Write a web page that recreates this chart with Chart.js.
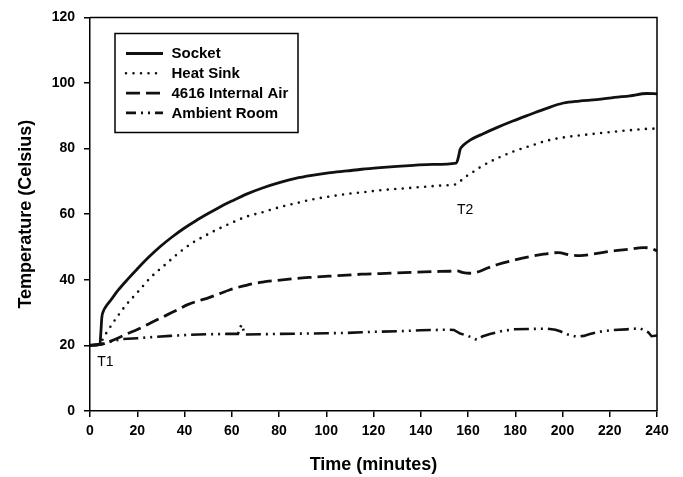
<!DOCTYPE html>
<html>
<head>
<meta charset="utf-8">
<script src="https://cdn.jsdelivr.net/npm/chart.js@4.4.1/dist/chart.umd.min.js"></script>
<style>
  html, body { margin: 0; padding: 0; background: #fff; }
  #wrap { width: 683px; height: 477px; position: relative; }
</style>
</head>
<body>
<div id="wrap"><canvas id="c"></canvas></div>
<script>
// ---- Data ----
const seriesNames = ["Socket", "Heat Sink", "4616 Internal Air", "Ambient Room"];

const socketTime = [0,2,4.2,4.6,5.0,5.6,6.4,9,12,16,20,25,30,35,40,45,50,55,60,66.5,73,80.5,87,94.6,101,108.8,115,122.8,130,136.9,145,155,155.8,156.7,158,160.9,166,172.2,179,186.3,193,200.4,207,214.5,222,228.6,235.6,240];
const socketTemp = [20.1,20.1,20.3,24,28.5,30.3,31.5,34,36.9,40.2,43.3,47,50.3,53.2,55.8,58.1,60.2,62.2,64,66.2,68,69.7,70.9,71.9,72.6,73.2,73.7,74.2,74.6,74.9,75.2,75.6,77,79.8,81,82.6,84.4,86.4,88.4,90.4,92.2,93.9,94.5,94.9,95.6,96.1,96.8,96.7];

const heatSinkTime = [0,3,4.5,5.5,7.1,11.3,14.9,20.5,25.5,31.8,37.4,43,49.4,54,59.4,66,73.5,80.5,87.6,94,101.7,108,115.8,122.8,129.9,137,144,150,155.3,158.1,161,165.1,172.2,179.2,186.3,193.3,200.4,207,214.5,221,228.6,235,240];
const heatSinkTemp = [20,20.1,20.8,22,24,28.5,32,36.5,40.6,44.6,48.1,51.1,53.7,55.4,57.2,59.2,60.7,62.2,63.4,64.5,65.4,66.1,66.7,67.3,67.7,68.1,68.5,68.8,69.2,71,72.3,74.3,77,79.1,80.8,82.4,83.4,84,84.6,85.1,85.6,86,86.1];

const airTime = [0,4,8,10.7,15,20.5,26,31.8,36,41.6,46,50.1,55,59,66.5,73,80.5,87,94.6,101,108.8,115,122.8,130,136.9,145,152,155.3,158,160.9,165.1,168,172.2,179,186.3,192,198.3,203,207.4,214,221.5,228,234.2,237.5,240];
const airTemp = [20,20.3,21.1,21.9,23.3,25,27,29,30.5,32.5,33.6,34.5,35.8,36.9,38.4,39.3,39.9,40.4,40.8,41.1,41.4,41.7,41.9,42.1,42.3,42.5,42.6,42.7,42.2,42,42.6,43.5,44.6,45.9,47.1,47.8,48.3,47.6,47.4,48,48.8,49.3,49.8,49.6,48.8];

const ambientTime = [0,5,9,13.4,20,27.6,34,41.6,50.1,58,62.6,63.4,64.1,64.8,65.6,72,80.5,90,100,108.8,115,122.8,130,140,151,154,156.7,160,163.7,166,169.3,174,179.2,186,193.3,197,199,202,206,209,211.6,216,221.5,227,232.8,236.3,237.7,240];
const ambientTemp = [20,20.3,21.2,21.9,22.2,22.6,22.9,23.2,23.4,23.5,23.5,25,26.3,25,23.3,23.4,23.5,23.6,23.7,23.8,24,24.2,24.3,24.6,24.8,24.7,23.6,22.9,21.7,22.7,23.5,24.3,24.9,25,25.1,24.8,24.3,23.4,22.6,22.9,23.5,24.2,24.7,24.9,25.2,24,22.8,23];

const xTicks = [0,20,40,60,80,100,120,140,160,180,200,220,240];
const yTicks = [0,20,40,60,80,100,120];
const xTitle = "Time (minutes)";
const yTitle = "Temperature (Celsius)";

const noteLabels = ["T1", "T2"];
const noteX = [6.5, 158.8];
const noteY = [14.8, 61.3];

// ---- Build datasets ----
function pts(t, v) { return t.map((x, i) => ({ x: x, y: v[i] })); }

const FONT = "'Liberation Sans', Arial, sans-serif";

const datasets = [
  { label: seriesNames[0], data: pts(socketTime, socketTemp), borderColor: '#111', borderWidth: 2.8, borderDash: [], borderCapStyle: 'butt', cubicInterpolationMode: 'monotone' },
  { label: seriesNames[1], data: pts(heatSinkTime, heatSinkTemp), borderColor: '#111', borderWidth: 2.6, borderDash: [0, 7.5], borderCapStyle: 'round', cubicInterpolationMode: 'monotone' },
  { label: seriesNames[2], data: pts(airTime, airTemp), borderColor: '#111', borderWidth: 2.8, borderDash: [14, 6], borderCapStyle: 'butt', cubicInterpolationMode: 'monotone' },
  { label: seriesNames[3], data: pts(ambientTime, ambientTemp), borderColor: '#111', borderWidth: 2.6, borderDash: [15, 5, 2, 5, 2, 5], borderCapStyle: 'butt', tension: 0 }
].map(d => Object.assign(d, { pointRadius: 0, fill: false }));

// Legend box drawn inside the plot
const boxLegend = {
  id: 'boxLegend',
  afterDraw(chart) {
    const ctx = chart.ctx;
    const x0 = 115, y0 = 33.5, w = 183, h = 99;
    ctx.save();
    ctx.lineWidth = 1.5;
    ctx.strokeStyle = '#000';
    ctx.fillStyle = '#fff';
    ctx.fillRect(x0, y0, w, h);
    ctx.strokeRect(x0, y0, w, h);
    ctx.font = 'bold 15px ' + FONT;
    ctx.textBaseline = 'middle';
    ctx.textAlign = 'left';
    chart.data.datasets.forEach((ds, i) => {
      const y = 53.5 + i * 19.8;
      ctx.beginPath();
      ctx.lineWidth = ds.borderWidth;
      ctx.setLineDash(i === 3 ? [10, 5, 2, 5, 2, 5] : (i === 2 ? [14, 6] : ds.borderDash));
      ctx.lineCap = ds.borderCapStyle;
      ctx.strokeStyle = ds.borderColor;
      ctx.moveTo(126, y);
      ctx.lineTo(163, y);
      ctx.stroke();
      ctx.setLineDash([]);
      ctx.fillStyle = '#000';
      ctx.fillText(ds.label, 171.5, y + 0.5);
    });
    ctx.restore();
  }
};

// Frame (top & right sides) and T1/T2 notes
const framePlugin = {
  id: 'framePlugin',
  afterDraw(chart) {
    const { ctx, chartArea: a, scales } = chart;
    ctx.save();
    ctx.strokeStyle = '#000';
    ctx.lineWidth = 1.5;
    ctx.beginPath();
    ctx.moveTo(a.left, a.top);
    ctx.lineTo(a.right, a.top);
    ctx.lineTo(a.right, a.bottom);
    ctx.stroke();
    ctx.font = '14px ' + FONT;
    ctx.fillStyle = '#000';
    ctx.textAlign = 'center';
    ctx.textBaseline = 'middle';
    noteLabels.forEach((t, i) => {
      ctx.fillText(t, scales.x.getPixelForValue(noteX[i]), scales.y.getPixelForValue(noteY[i]));
    });
    ctx.restore();
  }
};

new Chart(document.getElementById('c'), {
  type: 'line',
  data: { datasets: datasets },
  plugins: [framePlugin, boxLegend],
  options: {
    responsive: true,
    maintainAspectRatio: false,
    animation: false,
    layout: { padding: { top: 12, right: 26, left: 0, bottom: 0 } },
    plugins: { legend: { display: false }, tooltip: { enabled: false } },
    scales: {
      x: {
        type: 'linear',
        min: 0, max: 240,
        afterBuildTicks: s => { s.ticks = xTicks.map(v => ({ value: v })); },
        afterFit: s => { s.height = 66; },
        ticks: { color: '#000', font: { family: FONT, size: 14, weight: 'bold' }, padding: 6, maxRotation: 0, autoSkip: false },
        grid: { display: true, drawOnChartArea: false, drawTicks: true, tickLength: 6, color: '#000', lineWidth: 1.5 },
        border: { display: true, color: '#000', width: 1.5 },
        title: { display: true, text: xTitle, color: '#000', font: { family: FONT, size: 18, weight: 'bold' }, padding: { top: 1, bottom: 1 } }
      },
      y: {
        type: 'linear',
        min: 0, max: 120,
        afterBuildTicks: s => { s.ticks = yTicks.map(v => ({ value: v })); },
        afterFit: s => { s.width = 90; },
        ticks: { color: '#000', font: { family: FONT, size: 14, weight: 'bold' }, padding: 9, autoSkip: false },
        grid: { display: true, drawOnChartArea: false, drawTicks: true, tickLength: 6, color: '#000', lineWidth: 1.5 },
        border: { display: true, color: '#000', width: 1.5 },
        title: { display: true, text: yTitle, color: '#000', font: { family: FONT, size: 18, weight: 'bold' }, padding: { top: 15, bottom: 0 } }
      }
    }
  }
});
</script>
</body>
</html>
